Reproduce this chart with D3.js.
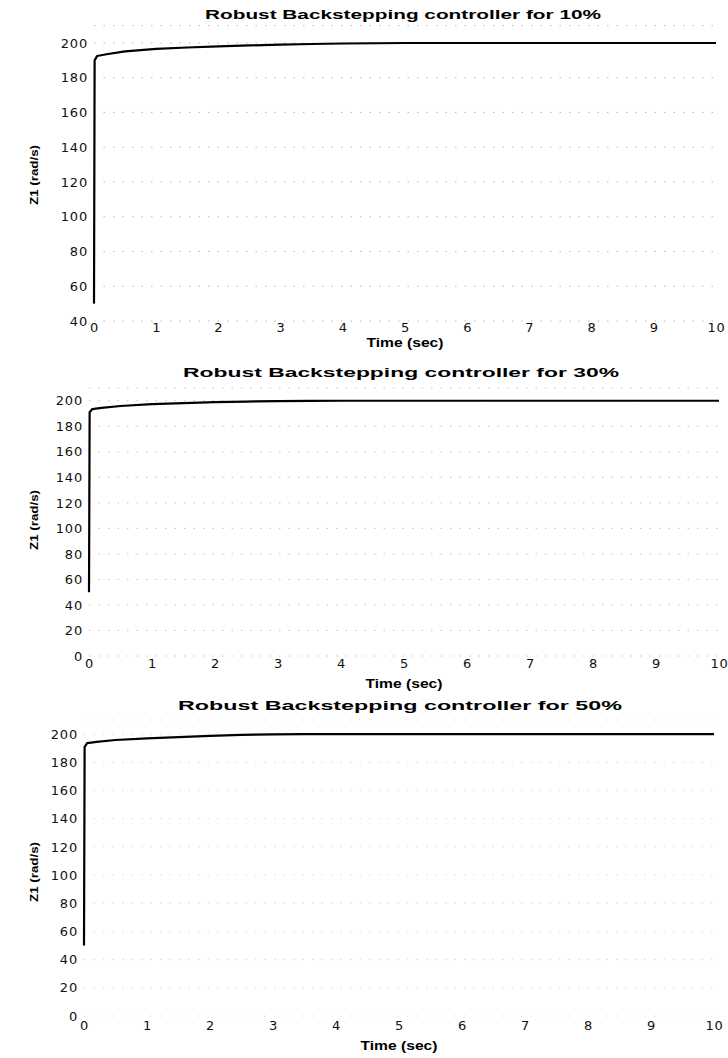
<!DOCTYPE html>
<html>
<head>
<meta charset="utf-8">
<script src="https://cdn.jsdelivr.net/npm/d3@7"></script>
<style>
  html, body { margin: 0; padding: 0; background: #fff; }
  svg { display: block; }
</style>
</head>
<body>
<svg id="chart" width="728" height="1058"></svg>
<script>
// Speed response Z1 (rad/s) of the robust backstepping controller
const timeSec   = [0, 0.01, 0.05, 0.2, 0.5, 1, 1.5, 2, 2.5, 3, 3.5, 4, 5, 6, 7, 8, 9, 10];
const z1For10   = [50, 190, 192.5, 193.5, 195.2, 196.6, 197.4, 198.0, 198.6, 199.1, 199.4, 199.7, 200, 200, 200, 200, 200, 200];
const z1For30   = [50, 191, 193.4, 194.4, 195.9, 197.3, 198.2, 198.9, 199.4, 199.7, 199.9, 200, 200, 200, 200, 200, 200, 200];
const z1For50   = [50, 191, 193.6, 194.5, 195.8, 197.0, 197.9, 198.8, 199.5, 199.8, 200, 200, 200, 200, 200, 200, 200, 200];

const titles    = ["Robust Backstepping controller for 10%",
                   "Robust Backstepping controller for 30%",
                   "Robust Backstepping controller for 50%"];
const xTicks    = [0, 1, 2, 3, 4, 5, 6, 7, 8, 9, 10];
const yTicksTop = [40, 60, 80, 100, 120, 140, 160, 180, 200];
const yTicksLow = [0, 20, 40, 60, 80, 100, 120, 140, 160, 180, 200];
const xLabel    = "Time (sec)";
const yLabel    = "Z1 (rad/s)";

// panel geometry (pixels)
const panels = [
  { values: z1For10, title: titles[0], yTicks: yTicksTop, yDomain: [40, 210],
    x0: 94, x1: 716, yBottom: 321, yTop: 25.6, titleY: 19, titleW: 396, titleX: 403,
    tickY: 333, xLabY: 347, yLabX: 38, yLabC: 175, yLabLen: 60, gridOpacity: 0.5 },
  { values: z1For30, title: titles[1], yTicks: yTicksLow, yDomain: [0, 210],
    x0: 89, x1: 719, yBottom: 656, yTop: 388, titleY: 377, titleW: 436, titleX: 401,
    tickY: 669, xLabY: 688, yLabX: 38, yLabC: 520, yLabLen: 60, gridOpacity: 0.45 },
  { values: z1For50, title: titles[2], yTicks: yTicksLow, yDomain: [0, 210],
    x0: 84, x1: 714, yBottom: 1016, yTop: 720, titleY: 710, titleW: 444, titleX: 400,
    tickY: 1031, xLabY: 1050, yLabX: 38, yLabC: 872, yLabLen: 60, gridOpacity: 0.28 }
];

const svg = d3.select("#chart");
const tickFont = "'DejaVu Sans', Verdana, sans-serif";
const boldFont = "'Liberation Sans', Arial, sans-serif";

panels.forEach(p => {
  const x = d3.scaleLinear().domain([0, 10]).range([p.x0, p.x1]);
  const y = d3.scaleLinear().domain(p.yDomain).range([p.yBottom, p.yTop]);
  const g = svg.append("g");

  // faint dotted grid lines at each y tick plus the top border
  const gridVals = p.yTicks.concat([p.yDomain[1]]);
  g.selectAll("line.grid").data(gridVals).join("line")
    .attr("class", "grid")
    .attr("x1", x(0)).attr("x2", x(10))
    .attr("y1", d => y(d)).attr("y2", d => y(d))
    .attr("stroke", "#777")
    .attr("stroke-opacity", p.gridOpacity)
    .attr("stroke-width", 1)
    .attr("stroke-dasharray", "1.5,8");

  // y tick labels
  const yAxis = d3.axisLeft(y).tickValues(p.yTicks).tickSize(0).tickPadding(6);
  const ya = g.append("g").attr("transform", `translate(${x(0)},0)`).call(yAxis);
  ya.select(".domain").remove();
  ya.selectAll("text")
    .attr("font-family", tickFont).attr("font-size", 13)
    .attr("letter-spacing", 0.8).attr("fill", "#111");

  // x tick labels
  const xAxis = d3.axisBottom(x).tickValues(xTicks).tickSize(0).tickPadding(0);
  const xa = g.append("g").attr("transform", `translate(0,${p.tickY - 10})`).call(xAxis);
  xa.select(".domain").remove();
  xa.selectAll("text")
    .attr("font-family", tickFont).attr("font-size", 13)
    .attr("letter-spacing", 0.8).attr("fill", "#111");

  // response curve
  const line = d3.line().x((d, i) => x(timeSec[i])).y(d => y(d));
  g.append("path")
    .datum(p.values)
    .attr("d", line)
    .attr("fill", "none")
    .attr("stroke", "#000")
    .attr("stroke-width", 2.2)
    .attr("stroke-linejoin", "round");

  // title
  g.append("text")
    .attr("x", p.titleX).attr("y", p.titleY)
    .attr("text-anchor", "middle")
    .attr("font-family", boldFont).attr("font-weight", "bold")
    .attr("font-size", 13.5)
    .attr("textLength", p.titleW).attr("lengthAdjust", "spacingAndGlyphs")
    .attr("fill", "#000")
    .text(p.title);

  // x axis label
  g.append("text")
    .attr("x", (p.x0 + p.x1) / 2).attr("y", p.xLabY)
    .attr("text-anchor", "middle")
    .attr("font-family", boldFont).attr("font-weight", "bold")
    .attr("font-size", 13)
    .attr("textLength", 77).attr("lengthAdjust", "spacingAndGlyphs")
    .attr("fill", "#000")
    .text(xLabel);

  // y axis label
  g.append("text")
    .attr("transform", `translate(${p.yLabX},${p.yLabC}) rotate(-90)`)
    .attr("text-anchor", "middle")
    .attr("font-family", boldFont).attr("font-weight", "bold")
    .attr("font-size", 11.5)
    .attr("textLength", p.yLabLen).attr("lengthAdjust", "spacingAndGlyphs")
    .attr("fill", "#000")
    .text(yLabel);
});
</script>
</body>
</html>
